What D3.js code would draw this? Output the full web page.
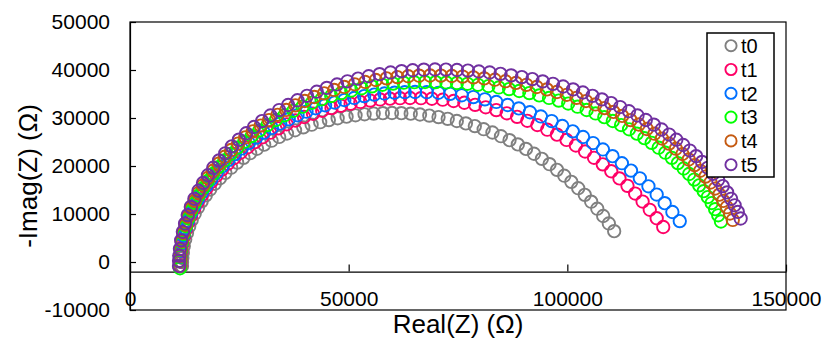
<!DOCTYPE html>
<html lang="en">
<head>
    <meta charset="UTF-8">
    <title>Nyquist plot t0-t5</title>
    <script src="https://d3js.org/d3.v7.min.js"></script>
    <style>
        body { margin: 0; background: #fff; }
        text { font-family: "Liberation Sans", Arial, sans-serif; fill: #000; }
        .marker { fill: none; stroke-width: 1.9px; }
    </style>
</head>
<body>
    <script>
        // series names and colours
        const seriesNames = ["t0", "t1", "t2", "t3", "t4", "t5"];
        const seriesColors = ["#808080", "#ff0066", "#0070ff", "#00ff00", "#c55a11", "#7030a0"];

        // axis ticks (Ω)
        const xTicks = [0, 50000, 100000, 150000];
        const yTicks = [-10000, 0, 10000, 20000, 30000, 40000, 50000];

        // Real(Z) and -Imag(Z), in kΩ
        const t0Re = [11.89, 11.90, 11.96, 12.07, 12.30, 12.62, 13.03, 13.53, 14.11, 14.79, 15.54, 16.39, 17.32, 18.32, 19.41, 20.57, 21.81, 23.13, 24.50, 25.95, 27.47, 29.04, 30.68, 32.37, 34.11, 35.90, 37.74, 39.62, 41.53, 43.49, 45.47, 47.48, 49.52, 51.57, 53.64, 55.72, 57.82,
            59.91, 62.05, 64.19, 66.31, 68.44, 70.55, 72.65, 74.73, 76.80, 78.85, 80.87, 82.87, 84.83, 86.78, 88.68, 90.55, 92.38, 94.18, 95.93, 97.64, 99.30, 100.91, 102.48, 103.99, 105.45, 106.85, 108.20, 109.49, 110.71];
        const t0Im = [-0.83, 0.00, 0.83, 1.95, 3.33, 4.70, 6.06, 7.42, 8.75, 10.07, 11.36, 12.64, 13.88, 15.10, 16.29, 17.45, 18.57, 19.65, 20.70, 21.70, 22.67, 23.58, 24.45, 25.27, 26.05, 26.77, 27.44, 28.05, 28.61, 29.12, 29.56, 29.95, 30.28, 30.56, 30.77, 30.92, 31.01,
            31.04, 31.01, 30.91, 30.73, 30.50, 30.19, 29.82, 29.38, 28.88, 28.31, 27.67, 26.98, 26.21, 25.39, 24.50, 23.56, 22.55, 21.49, 20.38, 19.20, 17.98, 16.70, 15.37, 13.99, 12.57, 11.10, 9.58, 8.03, 6.43];

        const t1Re = [11.55, 11.57, 11.62, 11.75, 12.00, 12.35, 12.79, 13.34, 13.98, 14.71, 15.54, 16.47, 17.48, 18.58, 19.77, 21.04, 22.39, 23.83, 25.34, 26.92, 28.57, 30.30, 32.08, 33.93, 35.83, 37.79, 39.80, 41.85, 43.95, 46.08, 48.25, 50.45, 52.67, 54.92, 57.18, 59.45, 61.74,
            64.03, 66.53, 69.03, 71.51, 73.99, 76.45, 78.91, 81.34, 83.75, 86.15, 88.51, 90.84, 93.14, 95.41, 97.63, 99.82, 101.95, 104.05, 106.10, 108.10, 110.04, 111.92, 113.75, 115.51, 117.21, 118.85, 120.43, 121.93];
        const t1Im = [-0.83, 0.08, 1.00, 2.22, 3.74, 5.24, 6.74, 8.23, 9.69, 11.14, 12.56, 13.96, 15.33, 16.67, 17.97, 19.24, 20.47, 21.66, 22.81, 23.91, 24.97, 25.98, 26.94, 27.84, 28.69, 29.48, 30.21, 30.89, 31.50, 32.06, 32.55, 32.97, 33.34, 33.63, 33.87, 34.03, 34.13,
            34.17, 34.13, 34.01, 33.81, 33.54, 33.18, 32.74, 32.23, 31.65, 30.98, 30.24, 29.42, 28.53, 27.57, 26.53, 25.43, 24.26, 23.02, 21.71, 20.35, 18.91, 17.42, 15.87, 14.26, 12.59, 10.88, 9.11, 7.29];

        const t2Re = [11.43, 11.45, 11.51, 11.63, 11.89, 12.25, 12.70, 13.26, 13.92, 14.67, 15.52, 16.47, 17.50, 18.63, 19.85, 21.15, 22.53, 24.00, 25.55, 27.17, 28.86, 30.63, 32.45, 34.34, 36.30, 38.30, 40.36, 42.46, 44.60, 46.79, 49.01, 51.26, 53.54, 55.84, 58.16, 60.48, 62.83,
            65.17, 67.85, 70.53, 73.20, 75.86, 78.51, 81.14, 83.76, 86.34, 88.91, 91.45, 93.95, 96.42, 98.85, 101.24, 103.59, 105.88, 108.13, 110.33, 112.47, 114.56, 116.58, 118.54, 120.43, 122.26, 124.02, 125.71];
        const t2Im = [-0.83, 0.12, 1.07, 2.33, 3.90, 5.46, 7.01, 8.55, 10.07, 11.57, 13.04, 14.49, 15.91, 17.30, 18.65, 19.96, 21.24, 22.47, 23.66, 24.80, 25.90, 26.94, 27.93, 28.87, 29.74, 30.56, 31.32, 32.02, 32.66, 33.23, 33.74, 34.18, 34.56, 34.87, 35.11, 35.28, 35.38,
            35.42, 35.38, 35.25, 35.03, 34.74, 34.36, 33.89, 33.34, 32.71, 32.00, 31.20, 30.32, 29.36, 28.34, 27.22, 26.04, 24.78, 23.45, 22.05, 20.58, 19.04, 17.44, 15.77, 14.05, 12.26, 10.42, 8.52];

        const t3Re = [11.44, 11.46, 11.52, 11.65, 11.92, 12.29, 12.77, 13.35, 14.03, 14.82, 15.70, 16.69, 17.77, 18.95, 20.21, 21.57, 23.01, 24.55, 26.16, 27.85, 29.61, 31.45, 33.35, 35.33, 37.36, 39.45, 41.60, 43.79, 46.02, 48.30, 50.61, 52.96, 55.34, 57.73, 60.15, 62.58, 65.02,
            67.46, 69.89, 72.33, 74.75, 77.17, 79.57, 81.96, 84.33, 86.68, 89.01, 91.31, 93.58, 95.82, 98.03, 100.20, 102.33, 104.42, 106.46, 108.45, 110.40, 112.29, 114.12, 115.91, 117.62, 119.28, 120.88, 122.41, 123.88, 125.27, 126.60, 127.85, 129.03, 130.14, 131.17, 132.12, 133.00, 133.79, 134.50, 135.13];
        const t3Im = [-1.30, 0.17, 1.17, 2.51, 4.17, 5.82, 7.46, 9.09, 10.70, 12.28, 13.84, 15.37, 16.87, 18.34, 19.76, 21.16, 22.51, 23.81, 25.07, 26.27, 27.43, 28.53, 29.58, 30.57, 31.50, 32.36, 33.17, 33.91, 34.58, 35.19, 35.73, 36.19, 36.59, 36.92, 37.17, 37.35, 37.46,
            37.50, 37.48, 37.41, 37.29, 37.13, 36.92, 36.66, 36.36, 36.02, 35.63, 35.19, 34.71, 34.18, 33.62, 33.01, 32.36, 31.67, 30.95, 30.18, 29.37, 28.53, 27.65, 26.74, 25.80, 24.82, 23.81, 22.77, 21.70, 20.60, 19.48, 18.33, 17.17, 15.97, 14.76, 13.53, 12.28, 11.01, 9.73, 8.44];

        const t4Re = [11.32, 11.34, 11.40, 11.54, 11.81, 12.19, 12.68, 13.27, 13.97, 14.77, 15.68, 16.69, 17.79, 19.00, 20.29, 21.68, 23.15, 24.72, 26.37, 28.10, 29.90, 31.78, 33.73, 35.74, 37.82, 39.96, 42.15, 44.39, 46.68, 49.01, 51.38, 53.78, 56.20, 58.66, 61.12, 63.61, 66.10,
            68.60, 71.09, 73.58, 76.06, 78.53, 80.99, 83.43, 85.86, 88.26, 90.65, 93.00, 95.33, 97.62, 99.88, 102.10, 104.28, 106.41, 108.50, 110.54, 112.53, 114.46, 116.34, 118.17, 119.92, 121.62, 123.25, 124.82, 126.32, 127.75, 129.10, 130.39, 131.59, 132.73, 133.78, 134.76, 135.65, 136.46, 137.19, 137.83];
        const t4Im = [-0.83, 0.21, 1.25, 2.63, 4.35, 6.06, 7.76, 9.44, 11.10, 12.74, 14.36, 15.94, 17.50, 19.01, 20.50, 21.94, 23.33, 24.68, 25.98, 27.23, 28.43, 29.57, 30.66, 31.68, 32.64, 33.54, 34.38, 35.14, 35.84, 36.47, 37.02, 37.51, 37.92, 38.26, 38.52, 38.71, 38.82,
            38.85, 38.83, 38.75, 38.63, 38.47, 38.25, 37.98, 37.67, 37.31, 36.91, 36.46, 35.96, 35.42, 34.83, 34.20, 33.53, 32.82, 32.06, 31.27, 30.44, 29.56, 28.65, 27.71, 26.73, 25.72, 24.67, 23.60, 22.49, 21.35, 20.19, 19.00, 17.79, 16.56, 15.30, 14.03, 12.73, 11.42, 10.10, 8.76];

        const t5Re = [11.20, 11.22, 11.28, 11.42, 11.70, 12.09, 12.59, 13.20, 13.91, 14.73, 15.66, 16.69, 17.82, 19.04, 20.37, 21.78, 23.29, 24.90, 26.58, 28.35, 30.19, 32.11, 34.10, 36.16, 38.29, 40.47, 42.71, 45.00, 47.34, 49.72, 52.14, 54.59, 57.07, 59.58, 62.10, 64.64, 67.19,
            69.74, 72.25, 74.77, 77.27, 79.77, 82.24, 84.72, 87.16, 89.59, 92.00, 94.37, 96.72, 99.03, 101.32, 103.56, 105.76, 107.91, 110.02, 112.08, 114.09, 116.04, 117.94, 119.78, 121.55, 123.27, 124.92, 126.50, 128.01, 129.45, 130.82, 132.12, 133.34, 134.48, 135.54, 136.53, 137.43, 138.25, 138.98, 139.63];
        const t5Im = [-0.83, 0.24, 1.31, 2.74, 4.51, 6.28, 8.03, 9.77, 11.48, 13.17, 14.84, 16.47, 18.07, 19.64, 21.17, 22.65, 24.09, 25.49, 26.83, 28.12, 29.35, 30.53, 31.65, 32.71, 33.70, 34.62, 35.48, 36.27, 36.99, 37.64, 38.21, 38.71, 39.14, 39.49, 39.76, 39.95, 40.07,
            40.10, 40.08, 40.00, 39.87, 39.70, 39.48, 39.20, 38.88, 38.52, 38.10, 37.63, 37.12, 36.56, 35.96, 35.31, 34.61, 33.88, 33.10, 32.28, 31.42, 30.52, 29.58, 28.61, 27.60, 26.55, 25.48, 24.37, 23.22, 22.05, 20.85, 19.63, 18.38, 17.11, 15.81, 14.50, 13.16, 11.81, 10.44, 9.06];

        const reList = [t0Re, t1Re, t2Re, t3Re, t4Re, t5Re];
        const imList = [t0Im, t1Im, t2Im, t3Im, t4Im, t5Im];

        // canvas
        const width = 825;
        const height = 345;
        const plot = { left: 130, right: 786, top: 22, bottom: 310 };
        const xAxisAt = -2000;   // horizontal axis crosses here

        const svg = d3.select("body")
            .append("svg")
            .attr("width", width)
            .attr("height", height);

        const x = d3.scaleLinear().domain([0, 150000]).range([plot.left, plot.right]);
        const y = d3.scaleLinear().domain([-10000, 50000]).range([plot.bottom, plot.top]);

        // plot frame
        svg.append("rect")
            .attr("x", plot.left)
            .attr("y", plot.top)
            .attr("width", plot.right - plot.left)
            .attr("height", plot.bottom - plot.top)
            .attr("fill", "none")
            .attr("stroke", "#000")
            .attr("stroke-width", 1.2);

        // y axis, ticks pointing inward
        const yAxis = svg.append("g")
            .attr("transform", `translate(${plot.left},0)`)
            .call(d3.axisLeft(y)
                .tickValues(yTicks)
                .tickSize(-6)
                .tickSizeOuter(0)
                .tickPadding(20)
                .tickFormat(d => String(d)));

        // x axis drawn at -2000
        const xAxis = svg.append("g")
            .attr("transform", `translate(0,${y(xAxisAt)})`)
            .call(d3.axisBottom(x)
                .tickValues(xTicks)
                .tickSize(-7)
                .tickSizeOuter(0)
                .tickPadding(19.5)
                .tickFormat(d => String(d)));

        [yAxis, xAxis].forEach(g => {
            g.attr("font-family", null).attr("font-size", null);
            g.selectAll("path, line").attr("stroke", "#000").attr("stroke-width", 1.2);
            g.selectAll("text").style("font-size", "21px");
        });

        // axis titles
        svg.append("text")
            .attr("x", (plot.left + plot.right) / 2)
            .attr("y", 333)
            .attr("text-anchor", "middle")
            .style("font-size", "26px")
            .text("Real(Z) (Ω)");

        svg.append("text")
            .attr("transform", `translate(37,${(plot.top + plot.bottom) / 2 + 10}) rotate(-90)`)
            .attr("text-anchor", "middle")
            .style("font-size", "26px")
            .text("-Imag(Z) (Ω)");

        // series: hollow circles, later series on top
        seriesNames.forEach((name, i) => {
            const pts = reList[i].map((re, j) => [re * 1000, imList[i][j] * 1000]);
            svg.append("g")
                .selectAll("circle")
                .data(pts)
                .enter()
                .append("circle")
                .attr("class", "marker")
                .attr("cx", d => x(d[0]))
                .attr("cy", d => y(d[1]))
                .attr("r", 6.2)
                .attr("stroke", seriesColors[i]);
        });

        // legend
        const legend = svg.append("g");
        legend.append("rect")
            .attr("x", 707)
            .attr("y", 33)
            .attr("width", 67)
            .attr("height", 144)
            .attr("fill", "#fff")
            .attr("stroke", "#000")
            .attr("stroke-width", 1.5);

        const rows = legend.selectAll(".row")
            .data(seriesNames)
            .enter()
            .append("g")
            .attr("transform", (d, i) => `translate(731,${45.7 + i * 23.8})`);

        rows.append("circle")
            .attr("class", "marker")
            .attr("r", 5.6)
            .attr("stroke", (d, i) => seriesColors[i]);

        rows.append("text")
            .attr("x", 10)
            .attr("dy", "0.36em")
            .style("font-size", "20px")
            .text(d => d);
    </script>
</body>
</html>
